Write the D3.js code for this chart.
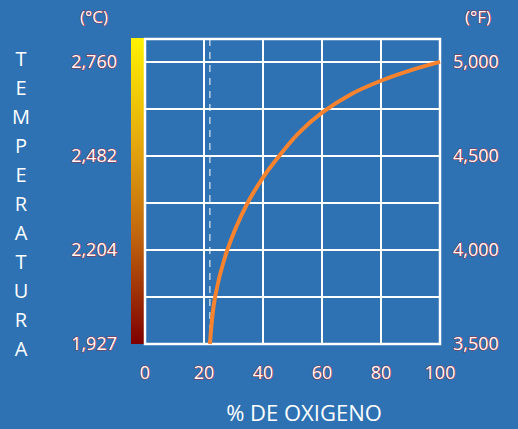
<!DOCTYPE html>
<html><head><meta charset="utf-8">
<script src="https://cdn.jsdelivr.net/npm/d3@7"></script>
<style>
html,body{margin:0;padding:0;background:#2E72B3;}
svg{display:block;}
</style></head>
<body>
<script>
const oxygen = [22, 23.7, 27.8, 34.6, 40, 45, 52, 60, 70, 80, 90, 100];
const tempF = [3500, 3745, 3995, 4245, 4385, 4490, 4620, 4730, 4830, 4900, 4955, 5000];
const xTicks = [0, 20, 40, 60, 80, 100];
const fTicks = [3500, 4000, 4500, 5000];
const cLabels = ["1,927", "2,204", "2,482", "2,760"];
const fLabels = ["3,500", "4,000", "4,500", "5,000"];
const airOxygen = 22;
const yLabel = "TEMPERATURA";
const xLabel = "% DE OXIGENO";

const W = 518, H = 429;
const svg = d3.select("body").append("svg").attr("width", W).attr("height", H);
svg.append("rect").attr("width", W).attr("height", H).attr("fill", "#2E72B3");

const x = d3.scaleLinear().domain([0, 100]).range([145, 440]);
const y = d3.scaleLinear().domain([3500, 5122]).range([344, 39]);

// gradient bar
const defs = svg.append("defs");
const grad = defs.append("linearGradient").attr("id", "g").attr("x1", 0).attr("y1", 0).attr("x2", 0).attr("y2", 1);
[["0%", "#FFF200"], ["35%", "#E4A70E"], ["65%", "#C0640E"], ["100%", "#7E0000"]].forEach(s =>
  grad.append("stop").attr("offset", s[0]).attr("stop-color", s[1]));
svg.append("rect").attr("x", 131).attr("y", 38).attr("width", 14).attr("height", y(3500) - 38).attr("fill", "url(#g)");

// grid
const grid = svg.append("g").attr("stroke", "#FFFFFF").attr("stroke-width", 2);
const hTicks = d3.range(3500, 5001, 250);
grid.selectAll("line.h").data(hTicks).join("line")
  .attr("x1", x(0)).attr("x2", x(100)).attr("y1", d => y(d)).attr("y2", d => y(d));
grid.selectAll("line.v").data(xTicks).join("line")
  .attr("x1", d => x(d)).attr("x2", d => x(d)).attr("y1", y(5122)).attr("y2", y(3500));
svg.append("rect").attr("x", x(0)).attr("y", y(5122)).attr("width", x(100) - x(0)).attr("height", y(3500) - y(5122))
  .attr("fill", "none").attr("stroke", "#FFFFFF").attr("stroke-width", 2.5);

svg.append("line").attr("x1", x(airOxygen)).attr("x2", x(airOxygen)).attr("y1", y(5122)).attr("y2", y(3500))
  .attr("stroke", "#FFFFFF").attr("stroke-width", 1).attr("stroke-dasharray", "7,6");

// curve
const line = d3.line().x((d, i) => x(oxygen[i])).y(d => y(d)).curve(d3.curveCatmullRom.alpha(0.5));
svg.append("path").attr("d", line(tempF)).attr("fill", "none").attr("stroke", "#F7832F").attr("stroke-width", 4).attr("stroke-linecap", "butt");

const font = "'Open Sans', sans-serif";
function outlined(sel) {
  return sel.attr("fill", "#FFFFFF").attr("stroke", "#9A2E3C").attr("stroke-width", 1.1)
    .attr("paint-order", "stroke").attr("font-family", font);
}

// left labels
outlined(svg.selectAll("text.cl").data(fTicks).join("text")
  .attr("x", 117).attr("y", d => y(d)).attr("dy", "0.35em").attr("text-anchor", "end")
  .attr("font-size", 18).text((d, i) => cLabels[i]));
// right labels
outlined(svg.selectAll("text.fl").data(fTicks).join("text")
  .attr("x", 453).attr("y", d => y(d)).attr("dy", "0.35em").attr("text-anchor", "start")
  .attr("font-size", 18).text((d, i) => fLabels[i]));
// x labels
outlined(svg.selectAll("text.xl").data(xTicks).join("text")
  .attr("x", d => x(d)).attr("y", 373).attr("dy", "0.35em").attr("text-anchor", "middle")
  .attr("font-size", 18).text(d => d));

outlined(svg.append("text").attr("x", 94).attr("y", 17).attr("dy", "0.35em").attr("text-anchor", "middle")
  .attr("font-size", 17).text("(°C)"));
outlined(svg.append("text").attr("x", 478).attr("y", 17).attr("dy", "0.35em").attr("text-anchor", "middle")
  .attr("font-size", 17).text("(°F)"));

// vertical title
svg.selectAll("text.yt").data(yLabel.split("")).join("text")
  .attr("x", 21).attr("y", (d, i) => 59 + i * 29).attr("dy", "0.35em").attr("text-anchor", "middle")
  .attr("fill", "#FFFFFF").attr("font-family", font).attr("font-size", 20).text(d => d);

svg.append("text").attr("x", 304).attr("y", 413).attr("dy", "0.35em").attr("text-anchor", "middle")
  .attr("fill", "#FFFFFF").attr("font-family", font).attr("font-size", 22).text(xLabel);
</script>
</body></html>
